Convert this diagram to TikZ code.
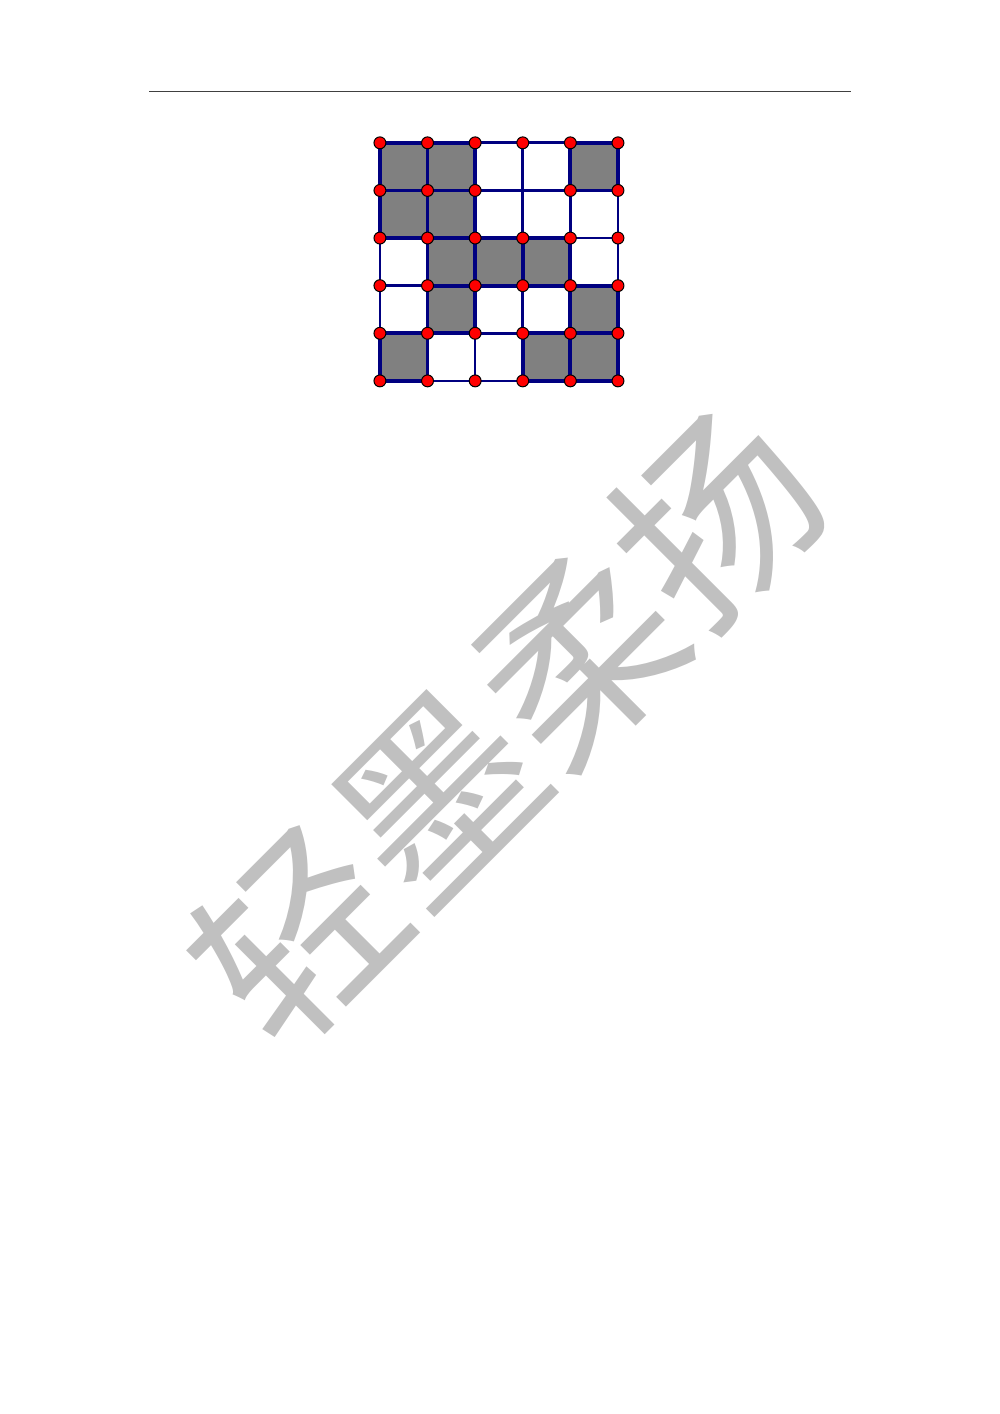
\documentclass[tikz,border=0pt]{standalone}
\usepackage{fontspec}
\newfontfamily\cjk{Noto Sans CJK SC}
\usetikzlibrary{positioning}
\definecolor{gridblue}{RGB}{0,0,128}
\definecolor{cellgray}{RGB}{128,128,128}
\definecolor{markgray}{RGB}{192,192,192}
\tikzset{
  gridline/.style={draw=gridblue, line width=1.6pt},
  cellbox/.style={fill=cellgray, draw=gridblue, line width=2.3pt},
  dot/.style={circle, fill=red, draw=black, line width=0.6pt, inner sep=0pt,
    minimum size=2.5mm},
}

\begin{document}
\begin{tikzpicture}[x=1mm, y=1mm]
      \useasboundingbox (0,0) rectangle (210,-297);%

      % header rule
      \coordinate (hl) at (31.3,-19.1);%
      \coordinate (hr) at (178.7,-19.1);%
      \draw [line width=0.5pt, black!75] (hl) -- (hr);%

      % watermark
      \node [rotate=45, text=markgray, inner sep=0pt,
      font=\cjk\fontsize{118}{118}\selectfont] (mark) at (106.5,-152.5)
      {轻墨柔扬};%

      % board
      \begin{scope}[shift={(79.8,-80)}, x=10mm, y=10mm]
        \foreach \i in {0,...,5}
          \foreach \j in {0,...,5}
            \coordinate (c\i\j) at (\i,\j);%
        % -- grid lines
        \foreach \k in {0,...,5} {
          \draw [gridline] (c0\k) -- (c5\k);%
          \draw [gridline] (c\k0) -- (c\k5);%
        }
        % -- shaded cells
        \foreach \i/\j in {0/4,1/4,4/4,0/3,1/3,1/2,2/2,3/2,1/1,4/1,0/0,3/0,4/0}
          \filldraw [cellbox] (c\i\j) rectangle ++(1,1);%
        % -- points
        \foreach \i in {0,...,5}
          \foreach \j in {0,...,5} {
            \ifnum\i\j=34 \else \node [dot] (p\i\j) at (c\i\j) {};\fi
          }
      \end{scope}
\end{tikzpicture}
\end{document}
